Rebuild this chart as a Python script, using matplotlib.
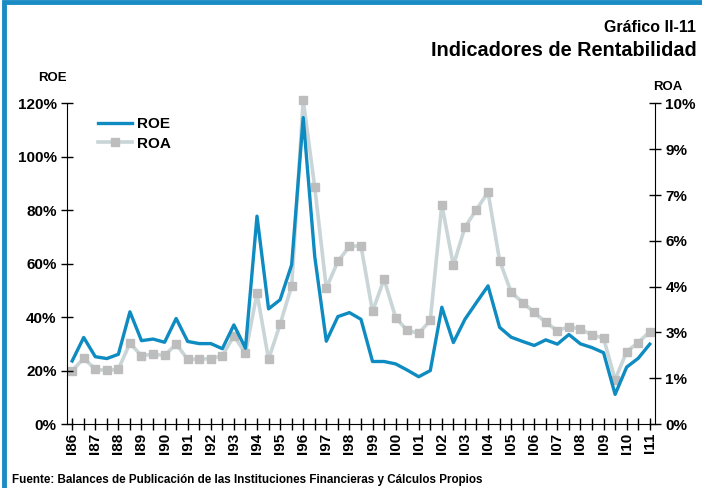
import numpy as np
import matplotlib
matplotlib.use('Agg')
import matplotlib.pyplot as plt
from matplotlib.patches import Rectangle

plt.rcParams['font.family'] = ['Liberation Sans', 'DejaVu Sans']
plt.rcParams['font.weight'] = 'bold'

# Semestral data, I86 .. I11 (51 points)
roe = [23.6, 32.4, 25.2, 24.5, 26.1, 42.0, 31.2, 31.8, 30.6, 39.5,
       30.9, 30.1, 30.1, 28.2, 37.1, 28.4, 77.8, 43.1, 46.5, 59.6,
       114.7, 62.6, 31.0, 40.2, 41.7, 39.2, 23.4, 23.4, 22.5, 20.2,
       17.7, 20.0, 43.7, 30.5, 39.2, 45.5, 51.7, 36.2, 32.5, 30.9,
       29.4, 31.5, 29.9, 33.5, 30.0, 28.6, 26.7, 11.1, 21.3, 24.6, 29.9]
roa = [1.66, 2.05, 1.71, 1.67, 1.71, 2.52, 2.13, 2.18, 2.14, 2.49,
       2.02, 2.02, 2.04, 2.13, 2.75, 2.21, 4.08, 2.02, 3.11, 4.31,
       10.1, 7.38, 4.24, 5.07, 5.54, 5.56, 3.51, 4.52, 3.32, 2.92,
       2.83, 3.23, 6.84, 4.95, 6.14, 6.69, 7.23, 5.10, 4.11, 3.79,
       3.48, 3.17, 2.91, 3.04, 2.96, 2.78, 2.68, 1.38, 2.26, 2.54, 2.88]
year_labels = ['I86', 'I87', 'I88', 'I89', 'I90', 'I91', 'I92', 'I93', 'I94',
               'I95', 'I96', 'I97', 'I98', 'I99', 'I00', 'I01', 'I02', 'I03',
               'I04', 'I05', 'I06', 'I07', 'I08', 'I09', 'I10', 'I11']
roe_ticks = [0, 20, 40, 60, 80, 100, 120]
roe_labels = ['0%', '20%', '40%', '60%', '80%', '100%', '120%']
roa_labels = ['0%', '1%', '3%', '4%', '6%', '7%', '9%', '10%']

blue = '#0E8BC0'
roa_line = '#C9D5D7'
roa_mark = '#BDBDBD'

fig = plt.figure(figsize=(7.02, 4.88), dpi=100)
fig.patches.append(Rectangle((0.006, -0.05), 1.1, 1.045, transform=fig.transFigure,
                             fill=False, edgecolor='#1A8CC4', linewidth=3.5))

ax = fig.add_axes([0.0954, 0.1311, 0.8376, 0.657])
ax2 = ax.twinx()

x = np.arange(len(roe))
ax2.plot(x, roa, color=roa_line, linewidth=2.6, marker='s', markersize=6,
         markerfacecolor=roa_mark, markeredgecolor=roa_mark, label='ROA', clip_on=False)
ax.plot(x, roe, color=blue, linewidth=2.4, label='ROE', clip_on=False)
ax.set_zorder(ax2.get_zorder() + 1)
ax.patch.set_visible(False)

ax.set_xlim(-0.45, 50.45)
ax.set_ylim(0, 120)
ax2.set_ylim(0, 10)

ax.set_yticks(roe_ticks)
ax.set_yticklabels(roe_labels, fontsize=11, fontweight='bold')
ax2.set_yticks(np.linspace(0, 10, len(roa_labels)))
ax2.set_yticklabels(roa_labels, fontsize=11, fontweight='bold')

ax.set_xticks(x, minor=True)
ax.set_xticks(x[::2])
ax.set_xticklabels(year_labels, rotation=90, fontsize=11, fontweight='bold')
ax.tick_params(axis='x', which='both', direction='inout', length=9, width=1, pad=2)
ax.tick_params(axis='y', direction='inout', length=9, width=1, pad=3)
ax2.tick_params(axis='y', direction='inout', length=9, width=1, pad=3)

for a in (ax, ax2):
    a.spines['top'].set_visible(False)
ax2.spines['left'].set_visible(False)
ax2.spines['bottom'].set_visible(False)
ax.spines['right'].set_visible(False)

handles = [ax.lines[0], ax2.lines[0]]
ax.legend(handles, ['ROE', 'ROA'], loc='upper left', bbox_to_anchor=(0.03, 1.0),
          frameon=False, prop={'weight': 'bold', 'size': 11},
          handlelength=2.2, handletextpad=0.3, labelspacing=0.35)

fig.text(0.075, 0.835, 'ROE', fontsize=9.5, fontweight='bold', ha='center')
fig.text(0.952, 0.815, 'ROA', fontsize=9.5, fontweight='bold', ha='center')
fig.text(0.992, 0.935, 'Gráfico II-11', fontsize=11.5, fontweight='bold', ha='right')
fig.text(0.992, 0.885, 'Indicadores de Rentabilidad', fontsize=14.3, fontweight='bold', ha='right')
fig.text(0.017, 0.01, 'Fuente: Balances de Publicación de las Instituciones Financieras y Cálculos Propios',
         fontsize=8.4, fontweight='bold', ha='left')

fig.savefig('out.png', dpi=100)
